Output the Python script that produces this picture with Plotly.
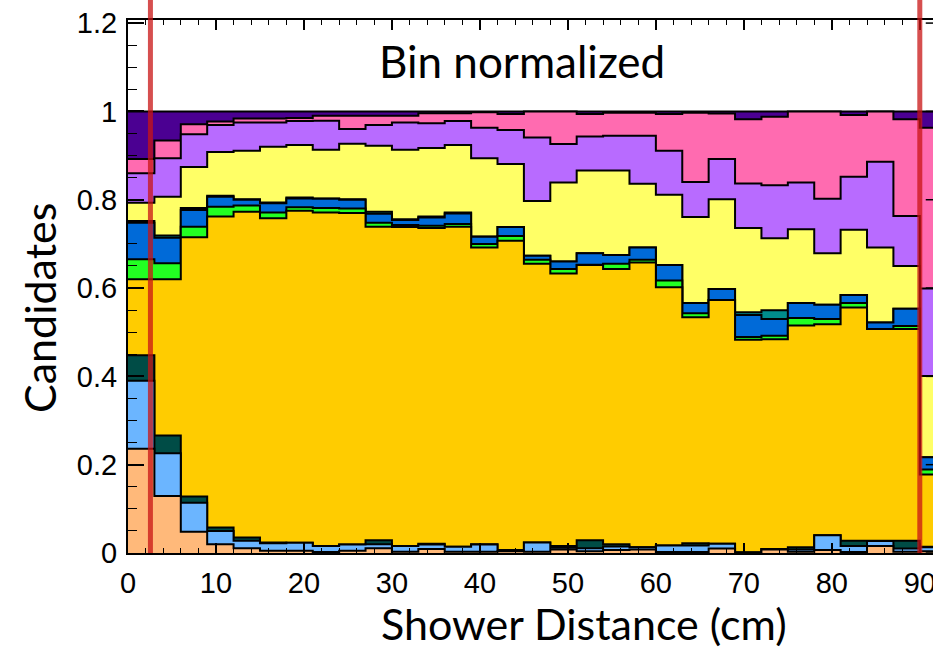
import plotly.graph_objects as go

# Bin edges (cm): 31 bins of 3 cm, last one only partly visible
bin_edges = [0, 3, 6, 9, 12, 15, 18, 21, 24, 27, 30, 33, 36, 39, 42, 45,
             48, 51, 54, 57, 60, 63, 66, 69, 72, 75, 78, 81, 84, 87, 90, 93]

# Cumulative (stacked) bin-normalized fraction at the top of each category
top_peach = [0.236, 0.129, 0.048, 0.020, 0.011, 0.005, 0.005, 0.002, 0.005, 0.011,
             0.003, 0.009, 0.003, 0.003, 0.004, 0.003, 0.008, 0.004, 0.007, 0.008,
             0.002, 0.002, 0.010, 0.001, 0.008, 0.003, 0.007, 0.002, 0.016, 0.003, 0.004]
top_lightblue = [0.390, 0.226, 0.114, 0.050, 0.028, 0.022, 0.023, 0.016, 0.019, 0.020,
                 0.016, 0.019, 0.014, 0.019, 0.007, 0.024, 0.012, 0.011, 0.015, 0.013,
                 0.017, 0.017, 0.021, 0.001, 0.009, 0.008, 0.040, 0.016, 0.027, 0.010, 0.013]
top_darkteal = [0.448, 0.266, 0.128, 0.058, 0.035, 0.024, 0.023, 0.016, 0.019, 0.029,
                0.016, 0.021, 0.014, 0.020, 0.007, 0.024, 0.016, 0.029, 0.020, 0.013,
                0.017, 0.022, 0.021, 0.001, 0.009, 0.013, 0.040, 0.028, 0.028, 0.028, 0.014]
top_orange = [0.620, 0.620, 0.715, 0.762, 0.773, 0.758, 0.775, 0.771, 0.770, 0.739,
              0.738, 0.736, 0.739, 0.692, 0.707, 0.655, 0.633, 0.652, 0.643, 0.658,
              0.602, 0.534, 0.573, 0.483, 0.484, 0.515, 0.518, 0.556, 0.507, 0.507, 0.178]
top_green = [0.665, 0.656, 0.739, 0.784, 0.787, 0.771, 0.783, 0.781, 0.780, 0.748,
             0.743, 0.741, 0.745, 0.700, 0.718, 0.664, 0.643, 0.653, 0.655, 0.664,
             0.617, 0.543, 0.573, 0.489, 0.492, 0.532, 0.530, 0.566, 0.507, 0.514, 0.189]
top_blue = [0.748, 0.714, 0.777, 0.807, 0.800, 0.792, 0.803, 0.802, 0.800, 0.768,
            0.754, 0.760, 0.769, 0.716, 0.738, 0.673, 0.660, 0.679, 0.675, 0.692,
            0.652, 0.566, 0.598, 0.539, 0.530, 0.566, 0.562, 0.584, 0.522, 0.553, 0.217]
top_teal = [0.752, 0.719, 0.781, 0.809, 0.801, 0.794, 0.805, 0.803, 0.801, 0.773,
            0.756, 0.762, 0.771, 0.717, 0.738, 0.673, 0.660, 0.679, 0.675, 0.692,
            0.652, 0.566, 0.598, 0.545, 0.550, 0.566, 0.562, 0.584, 0.522, 0.553, 0.217]
top_yellow = [0.793, 0.807, 0.874, 0.908, 0.911, 0.920, 0.924, 0.913, 0.927, 0.922,
              0.913, 0.917, 0.924, 0.894, 0.881, 0.797, 0.839, 0.866, 0.866, 0.836,
              0.811, 0.761, 0.801, 0.736, 0.713, 0.733, 0.679, 0.732, 0.692, 0.650, 0.401]
top_purple = [0.860, 0.894, 0.948, 0.969, 0.975, 0.975, 0.978, 0.979, 0.960, 0.969,
              0.975, 0.973, 0.978, 0.963, 0.958, 0.941, 0.926, 0.943, 0.945, 0.945,
              0.911, 0.840, 0.892, 0.837, 0.833, 0.839, 0.802, 0.852, 0.886, 0.763, 0.599]
top_pink = [0.892, 0.934, 0.971, 0.977, 0.984, 0.984, 0.985, 0.990, 0.990, 0.990,
            0.990, 0.996, 0.996, 0.998, 0.994, 1.000, 1.000, 0.994, 0.997, 0.997,
            0.994, 0.997, 0.995, 0.982, 0.988, 1.000, 1.000, 0.992, 1.000, 0.982, 0.963]
top_darkpurple = [1.0] * 31

layers = [
    (top_peach, "#FFB97A"),
    (top_lightblue, "#6BB5FF"),
    (top_darkteal, "#004C46"),
    (top_orange, "#FFCC00"),
    (top_green, "#22FF22"),
    (top_blue, "#006AD8"),
    (top_teal, "#008C8C"),
    (top_yellow, "#FFFF66"),
    (top_purple, "#B86BFF"),
    (top_pink, "#FF6BB0"),
    (top_darkpurple, "#4B0092"),
]

cut_positions = [2.55, 90]
x_ticks = [0, 10, 20, 30, 40, 50, 60, 70, 80, 90]
y_ticks = [0, 0.2, 0.4, 0.6, 0.8, 1.0, 1.2]
y_tick_text = ["0", "0.2", "0.4", "0.6", "0.8", "1", "1.2"]

fig = go.Figure()
for top, color in reversed(layers):
    fig.add_trace(go.Scatter(
        x=bin_edges, y=top + [top[-1]], mode="lines",
        line=dict(color="black", width=2, shape="hv"),
        fill="tozeroy", fillcolor=color,
        showlegend=False, hoverinfo="skip"))

for xc in cut_positions:
    fig.add_shape(type="line", xref="x", yref="paper", x0=xc, x1=xc, y0=0, y1=1.06,
                  line=dict(color="rgba(200,20,20,0.75)", width=5), layer="above")

# right-hand frame ticks (frame itself lies just outside the visible area)
for yt in y_ticks:
    fig.add_shape(type="line", xref="paper", yref="y", x0=0.991, x1=1.0, y0=yt, y1=yt,
                  line=dict(color="black", width=1.5), layer="above")

tickfont = dict(family="Liberation Sans, Arial, sans-serif", size=29, color="black")
fig.update_layout(
    width=933, height=650,
    margin=dict(l=128, r=0, t=20, b=97),
    plot_bgcolor="white", paper_bgcolor="white",
    xaxis=dict(range=[0, 91.5], tickvals=x_ticks, ticks="inside", ticklen=10,
               tickwidth=1.5, tickcolor="black", showline=True, linecolor="black",
               linewidth=2, mirror="ticks", showgrid=False, zeroline=False,
               tickfont=tickfont, automargin=False, ticklabelstandoff=3,
               ticklabeloverflow="allow",
               minor=dict(dtick=2, ticks="inside", ticklen=5, tickwidth=1.2,
                          tickcolor="black", showgrid=False)),
    yaxis=dict(range=[0, 1.207], tickvals=y_ticks, ticktext=y_tick_text,
               ticks="inside", ticklen=16, automargin=False, ticklabelstandoff=3,
               ticklabeloverflow="allow",
               tickwidth=1.5, tickcolor="black", showline=True, linecolor="black",
               linewidth=2, showgrid=False, zeroline=False, tickfont=tickfont,
               minor=dict(dtick=0.05, ticks="inside", ticklen=9, tickwidth=1.2,
                          tickcolor="black", showgrid=False)),
    annotations=[
        dict(text="Bin normalized", x=0.489, y=0.923, xref="paper", yref="paper",
             showarrow=False, xanchor="center", yanchor="middle",
             font=dict(family="Lato, sans-serif", size=44, color="black")),
        dict(text="Shower Distance (cm)", x=0.566, y=-0.132, xref="paper", yref="paper",
             showarrow=False, xanchor="center", yanchor="middle",
             font=dict(family="Lato, sans-serif", size=43, color="black")),
        dict(text="Candidates", x=-0.1093, y=0.4597, xref="paper", yref="paper",
             showarrow=False, xanchor="center", yanchor="middle", textangle=-90,
             font=dict(family="Lato, sans-serif", size=43, color="black")),
    ],
)

fig.write_html("out.html", config={"displayModeBar": False},
               post_script="document.body.style.margin='0px';document.body.style.overflow='hidden';")
